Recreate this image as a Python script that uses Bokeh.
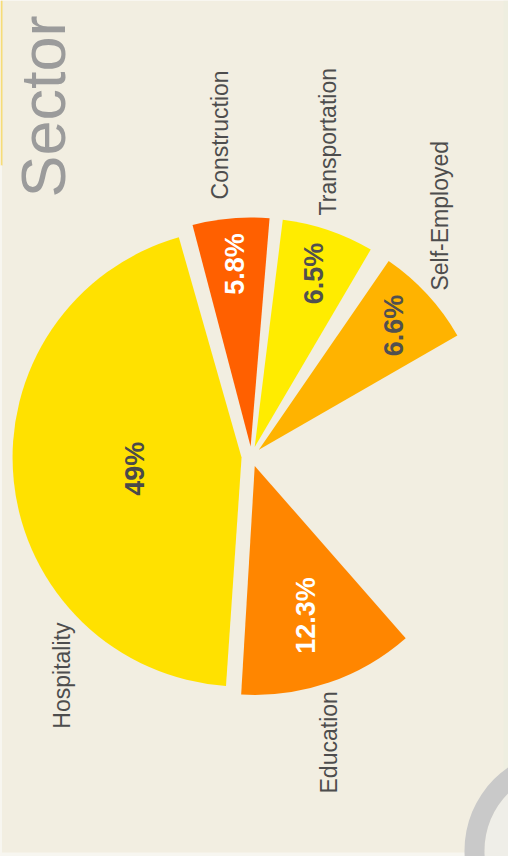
import numpy as np
from bokeh.plotting import figure
from bokeh.models import Range1d
from bokeh.embed import file_html
from bokeh.resources import INLINE
from bokeh.core.properties import value

# ---------------- data ----------------
title = "Sector"
sectors = ["Self-Employed", "Transportation", "Construction", "Hospitality", "Education"]
pct_labels = ["6.6%", "6.5%", "5.8%", "49%", "12.3%"]
# angular share of the full circle that each slice occupies in the picture (%)
slice_share = [7.1, 6.5, 5.4, 44.5, 12.4]

# ---------------- styling / layout ----------------
W, H = 508, 856
BG = "#F2EEE1"
FONT = "Liberation Sans"
slice_color = {
    "Self-Employed": "#FFB300",
    "Transportation": "#FFEC00",
    "Construction": "#FF6000",
    "Hospitality": "#FFE100",
    "Education": "#FF8600",
}
pct_color = {
    "Self-Employed": "#505050",
    "Transportation": "#505050",
    "Construction": "#FFFFFF",
    "Hospitality": "#4A4A4A",
    "Education": "#FFFFFF",
}
pct_frac = {"Self-Employed": 0.80, "Transportation": 0.80, "Construction": 0.80,
            "Hospitality": 0.47, "Education": 0.69}
# category label anchors: (angle deg, distance from pie centre)
cat_anchor = {
    "Self-Employed": (41.3, 251.5),
    "Transportation": (72.3, 253.0),
    "Construction": (96.9, 258.9),
    "Hospitality": (235.1, 331.8),
    "Education": (282.9, 345.7),
}
CX, CY = 251, H - 456
R = 229
EXPLODE = 10
START = 29.9
GAPS = [4.1, 2.3, 1.2, 0.5]   # angular gaps (deg) after each slice

p = figure(width=W, height=H, x_range=Range1d(0, W), y_range=Range1d(0, H),
           output_backend="svg", toolbar_location=None, min_border=0,
           x_axis_type=None, y_axis_type=None)
p.grid.visible = False
p.outline_line_color = None
p.background_fill_color = BG
p.border_fill_color = BG

# decorative page edges
p.quad(left=0, right=2, bottom=H - 165, top=H, fill_color="#F6DC78", line_color=None)
p.quad(left=503, right=W, bottom=0, top=H, fill_color="#EEEEE0", line_color=None)
p.quad(left=0, right=W, bottom=0, top=4, fill_color="#F7F6F0", line_color=None)
p.quad(left=0, right=1.5, bottom=0, top=H - 165, fill_color="#F7F6F0", line_color=None)

# partial ring at bottom right (next panel of the infographic)
p.circle(x=565, y=H - 850, radius=81, fill_color="#EFEEE8", line_color=None)
p.annulus(x=565, y=H - 850, inner_radius=81, outer_radius=101,
          fill_color="#C9C9C9", line_color=None)

# ---------------- pie ----------------
spans = np.array(slice_share) * 3.6
starts = START + np.concatenate([[0.0], np.cumsum(spans[:-1] + np.array(GAPS[:len(spans) - 1]))])
ends = starts + spans
mids = np.radians((starts + ends) / 2)
ox = CX + EXPLODE * np.cos(mids)
oy = CY + EXPLODE * np.sin(mids)

p.wedge(x=ox, y=oy, radius=R, start_angle=np.radians(starts), end_angle=np.radians(ends),
        fill_color=[slice_color[s] for s in sectors], line_color=None)

fr = np.array([pct_frac[s] for s in sectors])
lr = EXPLODE + fr * R
p.text(x=CX + lr * np.cos(mids), y=CY + lr * np.sin(mids), text=pct_labels,
       angle=np.pi / 2, text_align="center", text_baseline="middle",
       text_font=value(FONT), text_font_style="bold", text_font_size="27px",
       text_color=[pct_color[s] for s in sectors])

ca = np.radians([cat_anchor[s][0] for s in sectors])
cr = np.array([cat_anchor[s][1] for s in sectors])
p.text(x=CX + cr * np.cos(ca), y=CY + cr * np.sin(ca), text=sectors,
       angle=np.pi / 2, text_align="left", text_baseline="alphabetic",
       text_font=value(FONT), text_font_size="23px", text_color="#4D4D4D")

# title
p.text(x=[42], y=[H - 197], text=[title], angle=np.pi / 2, text_align="left",
       text_baseline="alphabetic", text_font=value(FONT), text_font_size="63px",
       text_color="#9B9B9B")

open("out.html", "w").write(file_html(p, INLINE))
